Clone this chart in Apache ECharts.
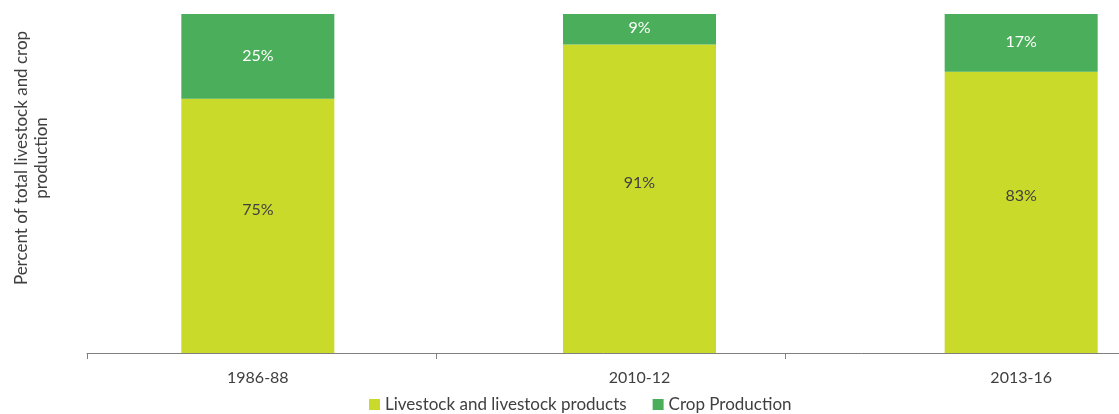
<!DOCTYPE html>
<html>
<head>
<meta charset="utf-8">
<script src="https://cdn.jsdelivr.net/npm/echarts@6/dist/echarts.min.js"></script>
<style>
  html, body { margin: 0; padding: 0; background: #fff; }
  #chart { width: 1119px; height: 414px; }
</style>
</head>
<body>
<div id="chart"></div>
<script>
// Share of total livestock and crop production by period
const categories = ['1986-88', '2010-12', '2013-16'];
const livestockShare = [75, 91, 83];
const cropShare = [25, 9, 17];
const seriesNames = ['Livestock and livestock products', 'Crop Production'];
const yAxisTitle = 'Percent of total livestock and crop\nproduction';

const FONT = 'Lato, "Open Sans", sans-serif';
const TEXT = '#404040';
const LIME = '#C9DA2A';
const GREEN = '#4BAE5B';

const chart = echarts.init(document.getElementById('chart'));
chart.setOption({
  animation: false,
  textStyle: { fontFamily: FONT },
  legend: {
    bottom: -4,
    left: 364,
    itemWidth: 11,
    itemHeight: 11,
    itemGap: 26,
    icon: 'rect',
    textStyle: { fontSize: 17, color: TEXT, fontFamily: FONT },
    data: seriesNames
  },
  grid: [
    // bar grid: wide categories so bars sit at their period centres
    { left: 67, width: 1145, top: 14, bottom: 61, outerBoundsMode: 'none' },
    // axis line grid with its own tick spacing
    { left: 87, width: 1047, top: 14, bottom: 61, outerBoundsMode: 'none' }
  ],
  xAxis: [
    {
      type: 'category',
      gridIndex: 0,
      data: categories,
      axisLine: { show: false },
      axisTick: { show: false },
      axisLabel: { fontSize: 16, color: TEXT, margin: 17, fontFamily: FONT }
    },
    {
      type: 'category',
      gridIndex: 1,
      data: categories,
      axisLine: { show: true, lineStyle: { color: '#7f7f7f', width: 1 } },
      axisTick: { show: true, length: 6, lineStyle: { color: '#7f7f7f' } },
      axisLabel: { show: false }
    }
  ],
  yAxis: [
    {
      type: 'value',
      gridIndex: 0,
      min: 0,
      max: 100,
      axisLine: { show: false },
      axisTick: { show: false },
      axisLabel: { show: false },
      splitLine: { show: false }
    },
    {
      type: 'value',
      gridIndex: 1,
      min: 0,
      max: 100,
      show: false
    }
  ],
  graphic: [
    {
      type: 'text',
      x: 32,
      y: 158,
      rotation: Math.PI / 2,
      style: {
        text: yAxisTitle,
        fontSize: 17,
        lineHeight: 20,
        fill: TEXT,
        fontFamily: FONT,
        align: 'center',
        verticalAlign: 'middle'
      }
    }
  ],
  series: [
    {
      name: seriesNames[0],
      type: 'bar',
      stack: 'total',
      barWidth: 153,
      itemStyle: { color: LIME },
      label: {
        show: true,
        position: 'inside',
        offset: [0, -16],
        formatter: p => p.value + '%',
        color: TEXT,
        fontSize: 16,
        fontFamily: FONT
      },
      data: livestockShare
    },
    {
      name: seriesNames[1],
      type: 'bar',
      stack: 'total',
      barWidth: 153,
      itemStyle: { color: GREEN },
      label: {
        show: true,
        position: 'inside',
        offset: [0, -1],
        formatter: p => p.value + '%',
        color: '#ffffff',
        fontSize: 16,
        fontFamily: FONT
      },
      data: cropShare
    }
  ]
});
</script>
</body>
</html>
